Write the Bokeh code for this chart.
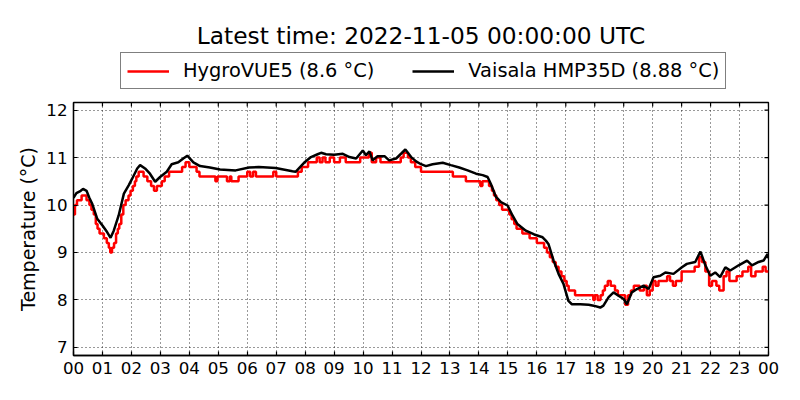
import math
from bokeh.plotting import figure
from bokeh.models import (Range1d, FixedTicker, Legend, LegendItem, Label, Spacer)
from bokeh.layouts import column, row
from bokeh.embed import file_html
from bokeh.resources import INLINE

TITLE = "Latest time: 2022-11-05 00:00:00 UTC"
Y_LABEL = "Temperature (°C)"
HOUR_TICKS = list(range(25))
HOUR_LABELS = ["%02d" % (h % 24) for h in HOUR_TICKS]
Y_TICKS = [7, 8, 9, 10, 11, 12]
X_MIN, X_MAX = 0, 24
Y_MIN, Y_MAX = 6.83, 12.16

RED_NAME = "HygroVUE5 (8.6 °C)"
BLACK_NAME = "Vaisala HMP35D (8.88 °C)"

# HygroVUE5 (0.1 °C resolution) - time of change [h], value [°C]
red_t = [0.0, 0.05, 0.12, 0.28, 0.45, 0.55, 0.62, 0.7, 0.77, 0.83, 0.9, 1.05, 1.15, 1.22, 1.27,
         1.33, 1.4, 1.47, 1.53, 1.58, 1.65, 1.72, 1.8, 1.9, 1.97, 2.05, 2.12, 2.17, 2.25, 2.42,
         2.55, 2.68, 2.78, 2.88, 3.05, 3.15, 3.3, 3.75, 3.87, 4.0, 4.25, 4.35, 4.9, 4.97, 5.3,
         5.4, 5.45, 5.7, 6.0, 6.1, 6.2, 6.3, 6.9, 7.0, 7.75, 7.88, 8.1, 8.4, 8.5, 8.6, 8.7,
         8.85, 9.0, 9.2, 9.4, 9.9, 10.2, 10.3, 10.45, 10.6, 11.3, 11.4, 11.55, 11.65, 11.8,
         12.0, 13.1, 13.55, 14.05, 14.12, 14.35, 14.45, 14.52, 14.6, 14.7, 14.8, 15.05, 15.13,
         15.22, 15.3, 15.5, 15.75, 16.0, 16.25, 16.35, 16.45, 16.55, 16.65, 16.75, 16.85,
         16.95, 17.03, 17.1, 17.32, 17.95, 18.0, 18.1, 18.2, 18.28, 18.35, 18.45, 18.55, 18.7,
         18.8, 19.05, 19.15, 19.25, 19.35, 19.55, 19.7, 19.8, 19.9, 20.0, 20.1, 20.2, 20.5,
         20.6, 20.7, 20.8, 21.0, 21.45, 21.6, 21.7, 21.82, 21.95, 22.05, 22.2, 22.3, 22.45,
         22.55, 22.65, 22.9, 23.1, 23.3, 23.4, 23.55, 23.8, 23.9, 24.0]
red_v = [9.8, 10.0, 10.1, 10.2, 10.1, 10.0, 9.9, 9.8, 9.6, 9.5, 9.4, 9.3, 9.2, 9.1, 9.0,
         9.1, 9.2, 9.4, 9.5, 9.6, 9.8, 10.0, 10.1, 10.2, 10.3, 10.4, 10.5, 10.6, 10.7, 10.6,
         10.5, 10.4, 10.3, 10.4, 10.5, 10.6, 10.7, 10.8, 10.9, 10.8, 10.7, 10.6, 10.5, 10.6, 10.5,
         10.6, 10.5, 10.6, 10.7, 10.6, 10.7, 10.6, 10.7, 10.6, 10.7, 10.8, 10.9, 11.0, 10.9, 11.0, 10.9,
         11.0, 10.9, 11.0, 10.9, 11.0, 11.1, 10.9, 11.0, 10.9, 11.0, 11.1, 11.0, 10.9, 10.8,
         10.7, 10.6, 10.5, 10.4, 10.5, 10.4, 10.3, 10.2, 10.1, 10.0, 9.9, 9.8, 9.7,
         9.6, 9.5, 9.4, 9.3, 9.2, 9.1, 9.0, 8.9, 8.8, 8.7, 8.6, 8.5,
         8.4, 8.3, 8.2, 8.1, 8.0, 8.1, 8.0, 8.1, 8.2, 8.3, 8.4, 8.3, 8.2,
         8.1, 7.9, 8.1, 8.2, 8.3, 8.2, 8.3, 8.1, 8.2, 8.4, 8.3, 8.4, 8.5,
         8.4, 8.3, 8.4, 8.6, 8.7, 8.9, 8.8, 8.6, 8.3, 8.4, 8.3, 8.2, 8.5,
         8.6, 8.4, 8.5, 8.6, 8.7, 8.5, 8.6, 8.7, 8.6, 8.6]

# Vaisala HMP35D - time [h], value [°C]
black_t = [0.0, 0.1, 0.25, 0.33, 0.45, 0.55, 0.65, 0.82, 1.0, 1.16, 1.28, 1.39, 1.56, 1.74,
           1.91, 2.03, 2.2, 2.3, 2.47, 2.64, 2.82, 2.99, 3.22, 3.39, 3.62, 3.79, 3.93, 4.14,
           4.37, 4.71, 5.06, 5.6, 6.06, 6.4, 6.98, 7.56, 7.67, 7.96, 8.2, 8.43, 8.55, 8.72,
           9.0, 9.3, 9.53, 9.76, 9.99, 10.1, 10.22, 10.33, 10.5, 10.74, 10.9, 11.14, 11.31,
           11.46, 11.66, 11.83, 12.0, 12.17, 12.4, 12.75, 13.03, 13.32, 13.61, 13.9, 14.13,
           14.3, 14.41, 14.59, 14.76, 14.99, 15.16, 15.33, 15.62, 15.91, 16.2, 16.31, 16.4,
           16.58, 16.75, 16.92, 17.09, 17.21, 17.5, 17.79, 17.96, 18.19, 18.3, 18.48, 18.65,
           18.82, 19.0, 19.11, 19.28, 19.46, 19.69, 19.86, 20.03, 20.26, 20.44, 20.72, 21.01,
           21.18, 21.47, 21.65, 21.82, 21.99, 22.16, 22.33, 22.51, 22.68, 22.97, 23.26, 23.43,
           23.66, 23.83, 23.97, 24.0]
black_v = [10.15, 10.25, 10.3, 10.34, 10.3, 10.15, 10.02, 9.71, 9.57, 9.43, 9.31, 9.46, 9.78, 10.24,
           10.42, 10.56, 10.77, 10.84, 10.77, 10.66, 10.49, 10.59, 10.7, 10.86, 10.9, 10.98, 11.04, 10.9,
           10.82, 10.79, 10.75, 10.73, 10.79, 10.8, 10.78, 10.71, 10.7, 10.89, 11.01, 11.07, 11.1, 11.07,
           11.06, 11.08, 11.01, 10.98, 11.15, 11.05, 11.13, 10.94, 11.03, 11.03, 10.94, 10.98, 11.08,
           11.17, 11.01, 10.92, 10.86, 10.82, 10.86, 10.89, 10.84, 10.79, 10.73, 10.66, 10.63,
           10.59, 10.45, 10.17, 10.06, 9.99, 9.78, 9.6, 9.46, 9.38, 9.32, 9.25, 9.18,
           8.83, 8.55, 8.34, 7.98, 7.91, 7.91, 7.9, 7.88, 7.84, 7.88, 8.06, 8.16,
           8.09, 8.02, 7.91, 8.16, 8.23, 8.3, 8.23, 8.48, 8.51, 8.58, 8.55, 8.69,
           8.76, 8.8, 9.02, 8.73, 8.51, 8.58, 8.48, 8.69, 8.62, 8.73, 8.83, 8.73,
           8.8, 8.83, 8.97, 8.88]

FONT = "DejaVu Sans"
LINE_W = 2.5
W, H = 800, 400
TOP_H = 94
SPACER_W = 14
MAIN_W, MAIN_H = W - SPACER_W, H - TOP_H
BL, BR, BT, BB = 20, 32, 8, 45

# ---------- header figure: title + legend ----------
head = figure(width=W, height=TOP_H, output_backend="svg", toolbar_location=None,
              x_range=Range1d(0, 1), y_range=Range1d(0, 1),
              x_axis_type=None, y_axis_type=None,
              min_border_left=0, min_border_right=0, min_border_top=0, min_border_bottom=0)
head.title = None
head.outline_line_color = None
head.xgrid.visible = False
head.ygrid.visible = False
# legend sample lines (kept outside the header's visible range)
h_red = head.line([5, 6], [5, 6], line_color="red", line_width=LINE_W)
h_black = head.line([5, 6], [5, 6], line_color="black", line_width=LINE_W)

legend = Legend(items=[LegendItem(label=RED_NAME, renderers=[h_red]),
                       LegendItem(label=BLACK_NAME, renderers=[h_black])],
                orientation="horizontal", location=(120, 5),
                label_text_font=FONT, label_text_font_size="19.4px", label_text_color="black",
                glyph_width=42, glyph_height=22, label_height=22,
                label_standoff=14, spacing=38, padding=6, margin=0,
                border_line_color="black", border_line_width=1.2,
                background_fill_color="white", background_fill_alpha=1)
head.add_layout(legend, "center")
head.add_layout(Label(x=420.5, y=59, x_units="screen", y_units="screen",
                      text=TITLE, text_align="center", text_baseline="middle",
                      text_font=FONT, text_font_size="23.3px", text_color="black"))

# ---------- main plot ----------
p = figure(width=MAIN_W, height=MAIN_H, output_backend="svg", toolbar_location=None,
           x_range=Range1d(X_MIN, X_MAX), y_range=Range1d(Y_MIN, Y_MAX),
           min_border_left=BL, min_border_right=BR, min_border_bottom=BB, min_border_top=BT)
p.title = None
p.background_fill_color = "white"
p.border_fill_color = "white"
p.outline_line_color = "black"
p.outline_line_width = 1.3

for g in (p.xgrid[0], p.ygrid[0]):
    g.grid_line_color = "black"
    g.grid_line_alpha = 0.8
    g.grid_line_dash = "1 3"
    g.grid_line_width = 1
p.xgrid.ticker = FixedTicker(ticks=HOUR_TICKS)
p.ygrid.ticker = FixedTicker(ticks=Y_TICKS)

# inward ticks on top and right edges
p.ray(x=HOUR_TICKS, y=[Y_MAX] * len(HOUR_TICKS), length=4, length_units="screen",
      angle=-math.pi / 2, line_color="black", line_width=1.2)
p.ray(x=[X_MAX] * len(Y_TICKS), y=Y_TICKS, length=4, length_units="screen",
      angle=math.pi, line_color="black", line_width=1.2)

p.step(red_t, red_v, mode="after", line_color="red", line_width=LINE_W)
p.line(black_t, black_v, line_color="black", line_width=LINE_W)

for ax in (p.xaxis[0], p.yaxis[0]):
    ax.major_tick_in = 4
    ax.major_tick_out = 0
    ax.major_tick_line_width = 1.2
    ax.minor_tick_line_color = None
    ax.axis_line_color = "black"
    ax.axis_line_width = 1.3
    ax.major_label_text_font = FONT
    ax.major_label_text_font_size = "16.7px"
    ax.major_label_text_color = "black"
    ax.major_label_standoff = 6

p.xaxis.ticker = FixedTicker(ticks=HOUR_TICKS)
p.xaxis.major_label_overrides = {h: lab for h, lab in zip(HOUR_TICKS, HOUR_LABELS)}
p.yaxis.ticker = FixedTicker(ticks=Y_TICKS)
p.yaxis.axis_label = Y_LABEL
p.yaxis.axis_label_text_font = FONT
p.yaxis.axis_label_text_font_size = "19px"
p.yaxis.axis_label_text_font_style = "normal"
p.yaxis.axis_label_text_color = "black"
p.yaxis.axis_label_standoff = 4

layout = column(head, row(Spacer(width=SPACER_W, height=MAIN_H), p, spacing=0), spacing=0)

open("out.html", "w").write(file_html(layout, INLINE))
